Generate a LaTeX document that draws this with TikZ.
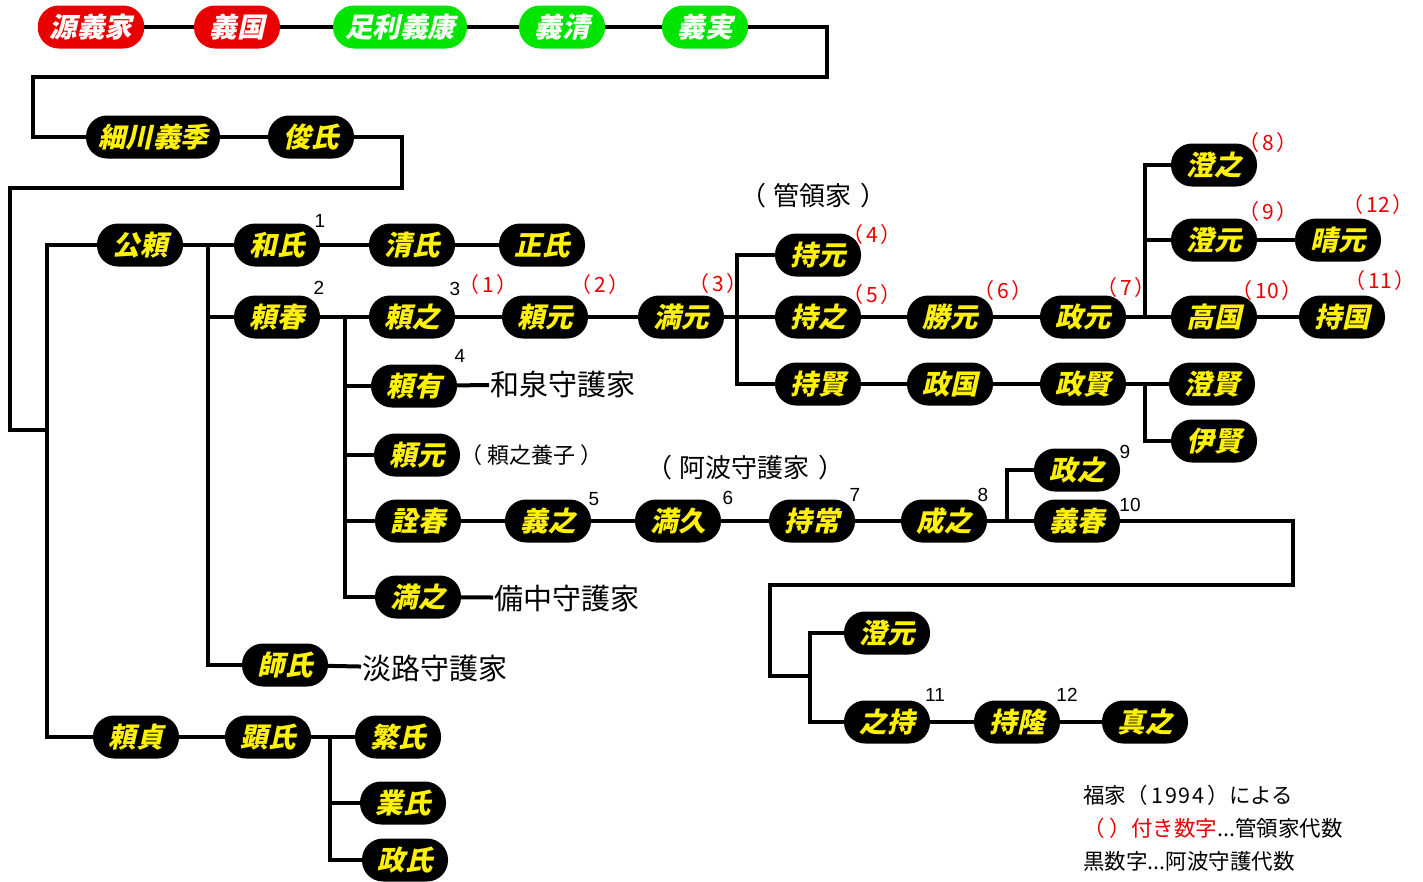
\documentclass[tikz,border=0pt]{standalone}
\usepackage{fontspec}
\newfontfamily\jp{Noto Sans CJK JP}
\newfontfamily\pillfont[FakeSlant=0.22]{Noto Sans CJK JP}
\newfontfamily\numfont{Liberation Sans}
\definecolor{pred}{RGB}{232,0,0}
\definecolor{pgreen}{RGB}{0,228,0}
\definecolor{lred}{RGB}{230,0,0}
\begin{document}
\begin{tikzpicture}[x=1pt,y=-1pt,
 pill/.style={fill=black,text=yellow,rounded corners=21pt,minimum height=43pt,minimum width=86pt,inner xsep=12pt,inner ysep=0pt,font=\pillfont\bfseries\fontsize{27.5}{27.5}\selectfont},
 redpill/.style={pill,fill=pred,text=white},
 greenpill/.style={pill,fill=pgreen,text=white},
 ln/.style={line width=4pt},
 bignote/.style={font=\jp\fontsize{29}{29}\selectfont,inner sep=1pt},
 gnum/.style={font=\numfont\fontsize{19}{19}\selectfont,inner sep=0pt},
 knum/.style={font=\jp\fontsize{21}{21}\selectfont,text=lred,inner sep=0pt},
 legend/.style={font=\jp\fontsize{21.5}{21.5}\selectfont,anchor=west,inner sep=0pt}
]
\useasboundingbox (0,0) rectangle (1423,881);
% row 1
\node[redpill] (yoshiie) at (91,27) {源義家};
\node[redpill] (yoshikuni) at (237,27) {義国};
\node[greenpill] (yoshiyasu) at (400,27) {足利義康};
\node[greenpill] (yoshikiyo) at (562,27) {義清};
\node[greenpill] (yoshisane) at (705,27) {義実};
% row 2
\node[pill] (hosokawa) at (153,137) {細川義季};
\node[pill] (toshiuji) at (311,137) {俊氏};
% main
\node[pill] (kimiyori) at (140,245) {公頼};
\node[pill] (kazuuji) at (277,245) {和氏};
\node[pill] (kiyouji) at (412,245) {清氏};
\node[pill] (masauji1) at (542,245) {正氏};
\node[pill] (yoriharu) at (277,317) {頼春};
\node[pill] (yoriyuki) at (412,317) {頼之};
\node[pill] (yorimoto) at (545,317) {頼元};
\node[pill] (mitsumoto) at (681,317) {満元};
\node[pill] (mochimoto) at (818,255) {持元};
\node[pill] (mochiyuki) at (818,317) {持之};
\node[pill] (katsumoto) at (950,317) {勝元};
\node[pill] (masamoto) at (1083,317) {政元};
\node[pill] (sumiyuki) at (1214,165) {澄之};
\node[pill] (sumimoto) at (1214,240) {澄元};
\node[pill] (harumoto) at (1338,240) {晴元};
\node[pill] (takakuni) at (1214,317) {高国};
\node[pill] (mochikuni) at (1342,317) {持国};
\node[pill] (mochikata) at (818,384) {持賢};
\node[pill] (masakuni) at (950,384) {政国};
\node[pill] (masakata) at (1083,384) {政賢};
\node[pill] (sumikata) at (1212,384) {澄賢};
\node[pill] (korekata) at (1214,441) {伊賢};
\node[pill] (yoriari) at (414,386) {頼有};
\node[pill] (yorimoto2) at (417,455) {頼元};
\node[pill] (akiharu) at (418,521) {詮春};
\node[pill] (yoshiyuki) at (548,521) {義之};
\node[pill] (mitsuhisa) at (678,521) {満久};
\node[pill] (mochitsune) at (812,521) {持常};
\node[pill] (shigeyuki) at (944,521) {成之};
\node[pill] (masayuki) at (1077,470) {政之};
\node[pill] (yoshiharu) at (1077,521) {義春};
\node[pill] (sumimoto2) at (887,633) {澄元};
\node[pill] (yukimochi) at (887,722) {之持};
\node[pill] (mochitaka) at (1017,722) {持隆};
\node[pill] (saneyuki) at (1145,722) {真之};
\node[pill] (mitsuyuki) at (418,597) {満之};
\node[pill] (morouji) at (285,665) {師氏};
\node[pill] (yorisada) at (136,737) {頼貞};
\node[pill] (akiuji) at (268,737) {顕氏};
\node[pill] (shigeuji) at (398,737) {繁氏};
\node[pill] (nariuji) at (403,803) {業氏};
\node[pill] (masauji2) at (405,860) {政氏};
% notes
\node[bignote,anchor=west] (izumi) at (489,384) {和泉守護家};
\node[bignote,anchor=west] (bitchu) at (493,598) {備中守護家};
\node[bignote,anchor=west] (awaji) at (361,668) {淡路守護家};
\node[font=\jp\fontsize{22}{22}\selectfont,anchor=west,inner sep=0pt] (yoshi) at (460,455) {（\kern5pt 頼之養子\kern5pt）};
\node[font=\jp\fontsize{26}{26}\selectfont] (kanrei) at (813,196) {（\kern8pt 管領家\kern8pt）};
\node[font=\jp\fontsize{26}{26}\selectfont] (awa) at (745,468) {（\kern8pt 阿波守護家\kern8pt）};
% connectors
\coordinate (a1) at (827,77); \coordinate (a2) at (33,77);
\coordinate (b1) at (402,188); \coordinate (b2) at (10,188); \coordinate (b3) at (47,430);
\coordinate (j1) at (208,245); \coordinate (j2) at (345,317); \coordinate (j3) at (737,317);
\coordinate (j4) at (1145,317); \coordinate (j5) at (1145,384); \coordinate (j6) at (1007,521);
\coordinate (c1) at (1293,585); \coordinate (c2) at (770,585); \coordinate (c3) at (770,676);
\coordinate (j7) at (810,676); \coordinate (j8) at (330,737);
\draw[ln] (yoshiie) -- (yoshikuni) -- (yoshiyasu) -- (yoshikiyo) -- (yoshisane);
\draw[ln] (yoshisane.east) -| (a1) -- (a2) |- (hosokawa.west);
\draw[ln] (hosokawa) -- (toshiuji);
\draw[ln] (toshiuji.east) -| (b1) -- (b2) |- (b3);
\draw[ln] (kimiyori.west) -| (b3) |- (yorisada.west);
\draw[ln] (kimiyori) -- (kazuuji) -- (kiyouji) -- (masauji1);
\draw[ln] (j1) |- (yoriharu.west);
\draw[ln] (j1) |- (morouji.west);
\draw[ln] (yoriharu) -- (yoriyuki) -- (yorimoto) -- (mitsumoto) -- (mochiyuki) -- (katsumoto) -- (masamoto) -- (takakuni) -- (mochikuni);
\draw[ln] (j2) |- (yoriari.west);
\draw[ln] (j2) |- (yorimoto2.west);
\draw[ln] (j2) |- (akiharu.west);
\draw[ln] (j2) |- (mitsuyuki.west);
\draw[ln] (j3) |- (mochimoto.west);
\draw[ln] (j3) |- (mochikata.west);
\draw[ln] (j4) |- (sumiyuki.west);
\draw[ln] (j4) |- (sumimoto.west);
\draw[ln] (sumimoto) -- (harumoto);
\draw[ln] (mochikata) -- (masakuni) -- (masakata) -- (sumikata);
\draw[ln] (j5) |- (korekata.west);
\draw[ln] (akiharu) -- (yoshiyuki) -- (mitsuhisa) -- (mochitsune) -- (shigeyuki) -- (yoshiharu);
\draw[ln] (j6) |- (masayuki.west);
\draw[ln] (yoshiharu.east) -| (c1) -- (c2) -- (c3) -- (j7);
\draw[ln] (j7) |- (sumimoto2.west);
\draw[ln] (j7) |- (yukimochi.west);
\draw[ln] (yukimochi) -- (mochitaka) -- (saneyuki);
\draw[ln] (yoriari) -- (izumi);
\draw[ln] (mitsuyuki) -- (bitchu);
\draw[ln] (morouji) -- (awaji);
\draw[ln] (yorisada) -- (akiuji) -- (shigeuji);
\draw[ln] (j8) |- (nariuji.west);
\draw[ln] (j8) |- (masauji2.west);
% black generation numbers
\node[gnum] (n1) at (320,221) {1};
\node[gnum] (n2) at (319,288) {2};
\node[gnum] (n3) at (455,289) {3};
\node[gnum] (n4) at (460,356) {4};
\node[gnum] (n5) at (594,499) {5};
\node[gnum] (n6) at (728,498) {6};
\node[gnum] (n7) at (855,495) {7};
\node[gnum] (n8) at (983,495) {8};
\node[gnum] (n9) at (1125,452) {9};
\node[gnum] (n10) at (1130,505) {10};
\node[gnum] (n11) at (935,695) {11};
\node[gnum] (n12) at (1067,695) {12};
% red kanrei numbers
\node[knum] (k1) at (488,285) {（\kern3pt 1\kern3pt）};
\node[knum] (k2) at (600,285) {（\kern3pt 2\kern3pt）};
\node[knum] (k3) at (718,284) {（\kern3pt 3\kern3pt）};
\node[knum] (k4) at (872,235) {（\kern3pt 4\kern3pt）};
\node[knum] (k5) at (872,295) {（\kern3pt 5\kern3pt）};
\node[knum] (k6) at (1003,291) {（\kern3pt 6\kern3pt）};
\node[knum] (k7) at (1126,288) {（\kern3pt 7\kern3pt）};
\node[knum] (k8) at (1268,143) {（\kern3pt 8\kern3pt）};
\node[knum] (k9) at (1268,212) {（\kern3pt 9\kern3pt）};
\node[knum] (k10) at (1267,291) {（\kern3pt 10\kern3pt）};
\node[knum] (k11) at (1380,281) {（\kern3pt 11\kern3pt）};
\node[knum] (k12) at (1378,205) {（\kern3pt 12\kern3pt）};
% legend
\node[legend] (l1) at (1083,795) {福家（\kern4pt 1\kern1.5pt 9\kern1.5pt 9\kern1.5pt 4\kern4pt）による};
\node[legend] (l2) at (1083,828) {\textcolor{lred}{（\kern5pt）付き数字}...管領家代数};
\node[legend] (l3) at (1083,861) {黒数字...阿波守護代数};
\end{tikzpicture}
\end{document}
